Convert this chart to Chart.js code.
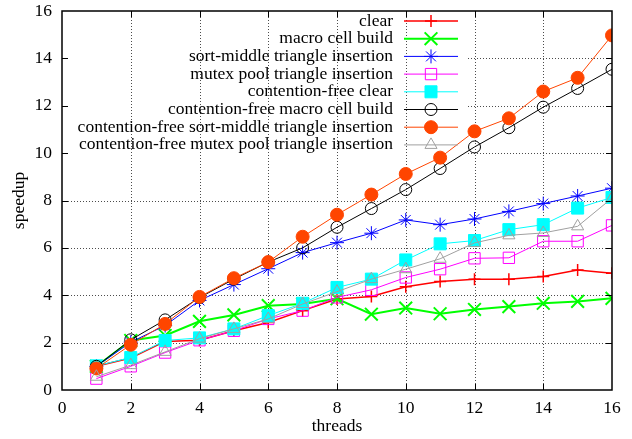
<!DOCTYPE html>
<html>
<head>
<meta charset="utf-8">
<script src="https://cdn.jsdelivr.net/npm/chart.js@4/dist/chart.umd.min.js"></script>
<style>
  html, body { margin: 0; padding: 0; background: #fff; }
  #wrap { width: 632px; height: 439px; }
</style>
</head>
<body>
<div id="wrap"><canvas id="grafico"></canvas></div>
<script>
const threads = [1, 2, 3, 4, 5, 6, 7, 8, 9, 10, 11, 12, 13, 14, 15, 16];

const clear = [1.0, 1.35, 2.05, 2.1, 2.5, 2.85, 3.35, 3.84, 3.95, 4.36, 4.58, 4.68, 4.68, 4.79, 5.07, 4.93];
const macroCellBuild = [1.0, 2.09, 2.3, 2.9, 3.17, 3.56, 3.63, 3.85, 3.2, 3.46, 3.22, 3.4, 3.52, 3.66, 3.74, 3.87];
const sortMiddle = [1.0, 2.02, 2.72, 3.78, 4.45, 5.12, 5.8, 6.22, 6.62, 7.18, 6.98, 7.22, 7.54, 7.87, 8.19, 8.52];
const mutexPool = [0.48, 1.0, 1.58, 2.1, 2.5, 3.0, 3.35, 3.91, 4.23, 4.75, 5.1, 5.56, 5.58, 6.28, 6.28, 6.95];
const cfClear = [1.02, 1.37, 2.09, 2.2, 2.58, 3.14, 3.66, 4.33, 4.68, 5.49, 6.17, 6.31, 6.77, 6.98, 7.68, 8.13];
const cfMacroCellBuild = [1.0, 2.12, 2.96, 3.9, 4.68, 5.4, 6.0, 6.87, 7.66, 8.46, 9.35, 10.26, 11.07, 11.94, 12.73, 13.54];
const cfSortMiddle = [0.91, 1.91, 2.79, 3.93, 4.72, 5.4, 6.47, 7.4, 8.25, 9.12, 9.81, 10.92, 11.47, 12.6, 13.18, 14.97];
const cfMutexPool = [0.56, 1.05, 1.61, 2.17, 2.58, 3.0, 3.63, 4.15, 4.68, 5.1, 5.54, 6.21, 6.53, 6.63, 6.91, 8.1];

const xTicks = [0, 2, 4, 6, 8, 10, 12, 14, 16];
const yTicks = [0, 2, 4, 6, 8, 10, 12, 14, 16];

const fuente = "'Liberation Serif', 'Times New Roman', serif";

const series = [
    { label: "clear", data: clear, color: "#ff0000", style: "cross", radius: 6, width: 1.5, fill: false },
    { label: "macro cell build", data: macroCellBuild, color: "#00ff00", style: "crossRot", radius: 9, width: 2, fill: false },
    { label: "sort-middle triangle insertion", data: sortMiddle, color: "#0000ff", style: "star", radius: 7, width: 1, fill: false },
    { label: "mutex pool triangle insertion", data: mutexPool, color: "#ff00ff", style: "rect", radius: 8, width: 1, fill: false },
    { label: "contention-free clear", data: cfClear, color: "#00ffff", style: "rect", radius: 8.5, width: 1, fill: true },
    { label: "contention-free macro cell build", data: cfMacroCellBuild, color: "#000000", style: "circle", radius: 6, width: 1, fill: false },
    { label: "contention-free sort-middle triangle insertion", data: cfSortMiddle, color: "#ff4500", style: "circle", radius: 6.5, width: 1, fill: true },
    { label: "contention-free mutex pool triangle insertion", data: cfMutexPool, color: "#a0a0a0", style: "triangle", radius: 7, width: 1, fill: false },
];

const datasets = series.map((s, i) => ({
    label: s.label,
    data: threads.map((t, k) => ({ x: t, y: s.data[k] })),
    borderColor: s.color,
    borderWidth: s.width,
    backgroundColor: s.color,
    pointStyle: s.style,
    pointRadius: s.radius,
    pointBorderColor: s.color,
    pointBackgroundColor: s.fill ? s.color : "rgba(0,0,0,0)",
    pointBorderWidth: s.width,
    tension: 0,
    order: series.length - i,
}));

// grid dotted like gnuplot; horizontal lines above the key start after it
const keyRight = 468;
const gridPlugin = {
    id: "gridGnuplot",
    beforeDatasetsDraw(chart) {
        const { ctx, chartArea, scales } = chart;
        ctx.save();
        ctx.strokeStyle = "rgba(0,0,0,0.7)";
        ctx.lineWidth = 1;
        ctx.setLineDash([1, 2]);
        xTicks.slice(1, -1).forEach((v) => {
            const px = Math.round(scales.x.getPixelForValue(v)) + 0.5;
            ctx.beginPath();
            ctx.moveTo(px, chartArea.top);
            ctx.lineTo(px, chartArea.bottom);
            ctx.stroke();
        });
        yTicks.slice(1, -1).forEach((v) => {
            const py = Math.round(scales.y.getPixelForValue(v)) + 0.5;
            const startX = py < 160 ? keyRight : chartArea.left;
            ctx.beginPath();
            ctx.moveTo(startX, py);
            ctx.lineTo(chartArea.right, py);
            ctx.stroke();
        });
        ctx.restore();
    },
    afterDraw(chart) {
        const { ctx, chartArea, scales } = chart;
        ctx.save();
        ctx.strokeStyle = "#000";
        ctx.lineWidth = 1;
        ctx.setLineDash([]);
        const t = 6;
        xTicks.slice(1, -1).forEach((v) => {
            const px = Math.round(scales.x.getPixelForValue(v)) + 0.5;
            ctx.beginPath();
            ctx.moveTo(px, chartArea.bottom);
            ctx.lineTo(px, chartArea.bottom - t);
            ctx.moveTo(px, chartArea.top);
            ctx.lineTo(px, chartArea.top + t);
            ctx.stroke();
        });
        yTicks.slice(1, -1).forEach((v) => {
            const py = Math.round(scales.y.getPixelForValue(v)) + 0.5;
            ctx.beginPath();
            ctx.moveTo(chartArea.left, py);
            ctx.lineTo(chartArea.left + t, py);
            ctx.moveTo(chartArea.right, py);
            ctx.lineTo(chartArea.right - t, py);
            ctx.stroke();
        });
        ctx.lineWidth = 1.5;
        ctx.strokeRect(chartArea.left, chartArea.top, chartArea.right - chartArea.left, chartArea.bottom - chartArea.top);

        // key
        ctx.font = "17.5px " + fuente;
        ctx.textAlign = "right";
        ctx.textBaseline = "middle";
        ctx.fillStyle = "#000";
        chart.data.datasets.forEach((ds, i) => {
            const y = 21 + i * 17.7;
            ctx.fillText(ds.label, 393, y);
            ctx.strokeStyle = ds.borderColor;
            ctx.lineWidth = ds.borderWidth;
            ctx.beginPath();
            ctx.moveTo(404, y);
            ctx.lineTo(458, y);
            ctx.stroke();
            ctx.fillStyle = ds.pointBackgroundColor;
            Chart.helpers.drawPoint(ctx, {
                pointStyle: ds.pointStyle,
                radius: ds.pointRadius,
                rotation: 0,
                borderWidth: ds.pointBorderWidth,
            }, 431, y);
            ctx.fillStyle = "#000";
        });
        ctx.restore();
    },
};

const config = {
    type: "line",
    data: { datasets: datasets },
    options: {
        responsive: true,
        maintainAspectRatio: false,
        animation: false,
        layout: { padding: { left: 9, right: 20, top: 8, bottom: 2 } },
        plugins: {
            legend: { display: false },
            tooltip: { enabled: false },
        },
        scales: {
            x: {
                type: "linear",
                min: 0,
                max: 16,
                afterBuildTicks: (scale) => { scale.ticks = xTicks.map((v) => ({ value: v })); },
                afterFit: (scale) => { scale.height = 47; scale.paddingLeft = 0; scale.paddingRight = 0; },
                grid: { display: false, drawTicks: false },
                border: { display: false },
                ticks: { color: "#000", padding: 8, font: { family: fuente, size: 17.5 }, maxRotation: 0 },
                title: { display: true, text: "threads", color: "#000", padding: 0, font: { family: fuente, size: 17.5 } },
            },
            y: {
                type: "linear",
                min: 0,
                max: 16,
                afterBuildTicks: (scale) => { scale.ticks = yTicks.map((v) => ({ value: v })); },
                afterFit: (scale) => { scale.width = 53; scale.paddingTop = 0; scale.paddingBottom = 0; },
                grid: { display: false, drawTicks: false },
                border: { display: false },
                ticks: { color: "#000", padding: 10, font: { family: fuente, size: 17.5 } },
                title: { display: true, text: "speedup", color: "#000", padding: 0, font: { family: fuente, size: 17.5 } },
            },
        },
    },
    plugins: [gridPlugin],
};

const chart = new Chart(document.getElementById("grafico"), config);
</script>
</body>
</html>
